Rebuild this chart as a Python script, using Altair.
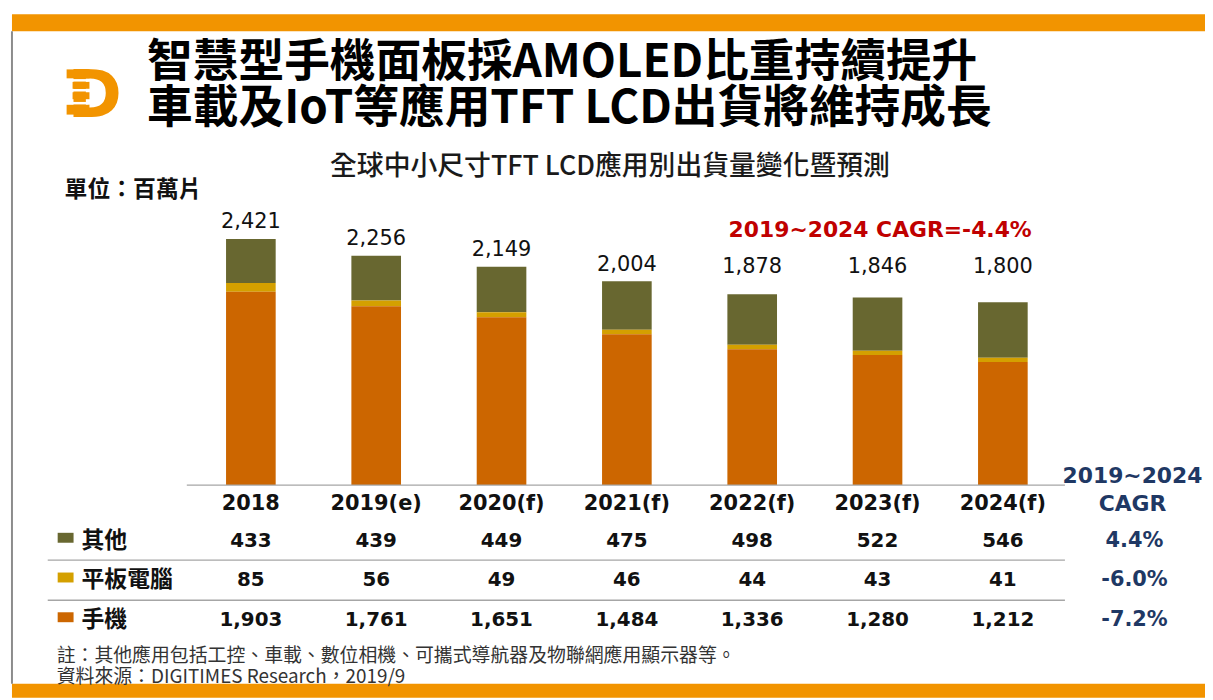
import altair as alt
import pandas as pd

# ---------------- data ----------------
years = ["2018", "2019(e)", "2020(f)", "2021(f)", "2022(f)", "2023(f)", "2024(f)"]
categories = ["其他", "平板電腦", "手機"]
other = [433, 439, 449, 475, 498, 522, 546]
tablet = [85, 56, 49, 46, 44, 43, 41]
phone = [1903, 1761, 1651, 1484, 1336, 1280, 1212]
totals = [2421, 2256, 2149, 2004, 1878, 1846, 1800]
cagr = ["4.4%", "-6.0%", "-7.2%"]
colors = ["#686730", "#D4A000", "#CC6600"]

title1 = "智慧型手機面板採AMOLED比重持續提升"
title2 = "車載及IoT等應用TFT LCD出貨將維持成長"
subtitle = "全球中小尺寸TFT LCD應用別出貨量變化暨預測"
unit = "單位：百萬片"
cagr_note = "2019~2024 CAGR=-4.4%"
cagr_head1 = "2019~2024"
cagr_head2 = "CAGR"
note1 = "註：其他應用包括工控、車載、數位相機、可攜式導航器及物聯網應用顯示器等。"
note2 = "資料來源：DIGITIMES Research，2019/9"

series = {"其他": other, "平板電腦": tablet, "手機": phone}
long_df = pd.DataFrame(
    [{"year": y, "cat": c, "value": v, "ord": len(categories) - 1 - categories.index(c)}
     for c in categories for y, v in zip(years, series[c])]
)
tot_df = pd.DataFrame({"year": years, "total": totals})
cagr_df = pd.DataFrame({"cat": categories, "cagr": cagr})
cat_df = pd.DataFrame({"cat": categories})
year_df = pd.DataFrame({"year": years})
dummy = pd.DataFrame({"a": [0]})

CJK = "Noto Sans CJK TC"
NUM = "DejaVu Sans"
ORANGE = "#F29400"
NAVY = "#1F3864"

# ---------------- scales ----------------
xs = alt.Scale(type="band", domain=years, range=[181.4, 1064.6],
               paddingInner=0.604, paddingOuter=0.302)
ys = alt.Scale(domain=[0, 4672], range=[478, 0], nice=False, zero=True)
rows = alt.Scale(type="point", domain=categories, range=[534, 614], padding=0)
cs = alt.Scale(domain=categories, range=colors)


def label(text, x, y, size, **kw):
    return alt.Chart(pd.DataFrame({"t": [text]})).mark_text(fontSize=size, **kw).encode(
        x=alt.value(x), y=alt.value(y), text="t:N")


def hrule(x1, x2, y, color, w):
    return alt.Chart(dummy).mark_rule(color=color, strokeWidth=w).encode(
        x=alt.value(x1), x2=alt.value(x2), y=alt.value(y))


def rect(x1, x2, y1, y2, color):
    return alt.Chart(dummy).mark_rect(color=color).encode(
        x=alt.value(x1), x2=alt.value(x2), y=alt.value(y1), y2=alt.value(y2))


# ---------------- frame ----------------
top_band = rect(4, 1205, 4, 21, ORANGE)
bottom_band = rect(4, 1205, 678, 692, ORANGE)
left_border = alt.Chart(dummy).mark_rule(color="#8C8C8C", strokeWidth=2).encode(
    x=alt.value(4), y=alt.value(21), y2=alt.value(678))

# logo
logo_d = label("D", 60, 107, 66, font=NUM, fontWeight="bold", color=ORANGE,
               align="left", baseline="alphabetic")
logo_ext = [hrule(59, 82, 64, ORANGE, 9), hrule(65, 82, 75.5, ORANGE, 7),
            hrule(65, 82, 86, ORANGE, 7), hrule(59, 82, 100, ORANGE, 10)]
logo_gaps = [hrule(56, 81, 70.5, "white", 2.5), hrule(56, 81, 80.5, "white", 2.5),
             hrule(56, 81, 93.5, "white", 2.5)]

# titles
t1 = label(title1, 140, 53, 46, font=CJK, fontWeight="bold", color="black", align="left", baseline="middle")
t2 = label(title2, 140, 99, 46, font=CJK, fontWeight="bold", color="black", align="left", baseline="middle")
st = label(subtitle, 606, 158, 27, font=CJK, fontWeight=500, color="#1a1a1a", align="center", baseline="middle")
un = label(unit, 57, 181, 23, font=CJK, fontWeight="bold", color="#111", align="left", baseline="middle")
red = label(cagr_note, 878, 221, 22, font=NUM, fontWeight="bold", color="#C00000", align="center", baseline="middle")

# ---------------- bars ----------------
bars = alt.Chart(long_df).mark_bar().encode(
    x=alt.X("year:N", scale=xs, axis=None),
    y=alt.Y("value:Q", stack="zero", scale=ys, axis=None),
    color=alt.Color("cat:N", scale=cs, legend=None),
    order=alt.Order("ord:Q", sort="ascending"),
)

tot_labels = alt.Chart(tot_df).transform_calculate(
    pos="max(datum.total, 1980)"
).mark_text(font=NUM, fontSize=21, color="#111", baseline="middle", dy=-17).encode(
    x=alt.X("year:N", scale=xs, axis=None),
    y=alt.Y("pos:Q", scale=ys, axis=None),
    text=alt.Text("total:Q", format=","),
)

# ---------------- table ----------------
base_line = hrule(180, 1064, 478, "#A6A6A6", 1.5)
sep1 = hrule(40, 1064, 553.5, "#A6A6A6", 1.5)
sep2 = hrule(40, 1064, 594, "#A6A6A6", 1.5)

year_row = alt.Chart(year_df).mark_text(font=NUM, fontSize=21, fontWeight="bold", color="#111",
                                        baseline="middle").encode(
    x=alt.X("year:N", scale=xs, axis=None), y=alt.value(497), text="year:N")

cells = alt.Chart(long_df).mark_text(font=NUM, fontSize=20, fontWeight="bold", color="#111",
                                     baseline="middle").encode(
    x=alt.X("year:N", scale=xs, axis=None),
    y=alt.Y("cat:N", scale=rows, axis=None),
    text=alt.Text("value:Q", format=","),
)

swatches = alt.Chart(cat_df).mark_point(
    shape="M-1,-0.625L1,-0.625L1,0.625L-1,0.625Z", filled=True, opacity=1, size=256
).encode(
    x=alt.value(58), y=alt.Y("cat:N", scale=rows, axis=None),
    color=alt.Color("cat:N", scale=cs, legend=None), yOffset=alt.value(-3))

row_names = alt.Chart(cat_df).mark_text(font=CJK, fontSize=23, fontWeight="bold", color="#111",
                                        align="left", baseline="middle").encode(
    x=alt.value(74), y=alt.Y("cat:N", scale=rows, axis=None), text="cat:N")

cagr_vals = alt.Chart(cagr_df).mark_text(font=NUM, fontSize=21, fontWeight="bold", color=NAVY,
                                         align="center", baseline="middle").encode(
    x=alt.value(1134), y=alt.Y("cat:N", scale=rows, axis=None), text="cagr:N")
ch1 = label(cagr_head1, 1132, 469, 22, font=NUM, fontWeight="bold", color=NAVY, align="center", baseline="middle")
ch2 = label(cagr_head2, 1132, 497, 22, font=NUM, fontWeight="bold", color=NAVY, align="center", baseline="middle")

# footer
n1 = label(note1, 49, 650, 19, font=CJK, color="#333", align="left", baseline="middle")
n2 = label(note2, 49, 671, 19, font=CJK, color="#333", align="left", baseline="middle")

chart = alt.layer(
    top_band, bottom_band, left_border,
    logo_d, *logo_ext, *logo_gaps,
    t1, t2, st, un, red,
    bars, tot_labels, base_line, sep1, sep2,
    year_row, cells, swatches, row_names, cagr_vals, ch1, ch2,
    n1, n2,
).resolve_scale(y="independent").properties(
    width=1205, height=692, autosize=alt.AutoSizeParams(type="none"), padding=0,
    background="white",
).configure_view(stroke=None)

chart.save("out.html", embed_options={"renderer": "svg", "actions": False})
